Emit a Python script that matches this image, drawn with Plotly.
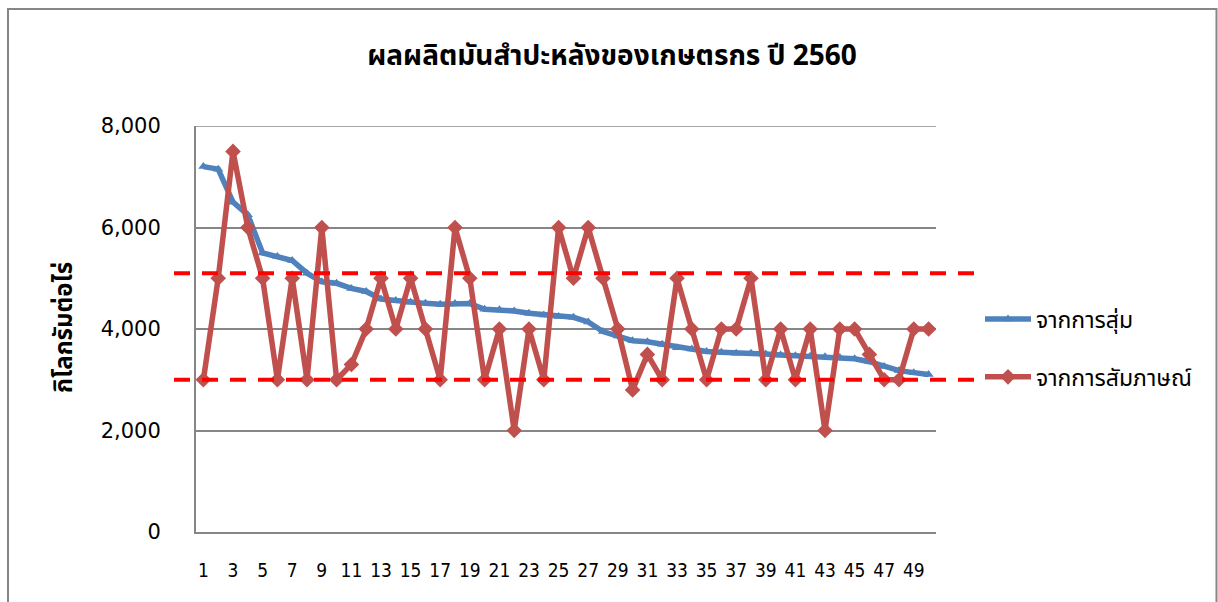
import plotly.graph_objects as go

categories = list(range(1, 51))
tick_labels = [str(i) for i in range(1, 50, 2)]
y_ticks = [0, 2000, 4000, 6000, 8000]
y_tick_labels = ["0", "2,000", "4,000", "6,000", "8,000"]

random_sample = [7200, 7150, 6500, 6250, 5500, 5430, 5350, 5100, 4930, 4900,
                 4800, 4740, 4590, 4560, 4525, 4505, 4490, 4500, 4500, 4390,
                 4380, 4355, 4310, 4275, 4245, 4230, 4140, 3950, 3860, 3770,
                 3750, 3700, 3630, 3605, 3555, 3540, 3520, 3520, 3505, 3490,
                 3475, 3465, 3455, 3440, 3415, 3355, 3260, 3180, 3140, 3105]

interview = [3000, 5000, 7500, 6000, 5000, 3000, 5000, 3000, 6000, 3000,
             3300, 4000, 5000, 4000, 5000, 4000, 3000, 6000, 5000, 3000,
             4000, 2000, 4000, 3000, 6000, 5000, 6000, 5000, 4000, 2800,
             3500, 3000, 5000, 4000, 3000, 4000, 4000, 5000, 3000, 4000,
             3000, 4000, 2000, 4000, 4000, 3500, 3000, 3000, 4000, 4000]

upper_limit = 5100
lower_limit = 3000

title_text = "ผลผลิตมันสำปะหลังของเกษตรกร ปี 2560"
y_title = "กิโลกรัมต่อไร่"
series_names = ["จากการสุ่ม", "จากการสัมภาษณ์"]

W, H = 1218, 602
L, R, T, B = 196, 936, 126, 532

def px(x):
    return (x - L) / (R - L)

def py(y):
    return (B - y) / (B - T)

thai_font = "Noto Sans Thai, Tahoma, Loma, Garuda, DejaVu Sans, sans-serif"
grid_color = "#868686"

fig = go.Figure()
fig.add_trace(go.Scatter(
    x=categories, y=random_sample, name=series_names[0], mode="lines+markers",
    line=dict(color="#4F81BD", width=5.5),
    marker=dict(symbol="triangle-up", size=9, color="#4F81BD"),
    legendgroup="a"))
fig.add_trace(go.Scatter(
    x=categories, y=interview, name=series_names[1], mode="lines+markers",
    line=dict(color="#C0504D", width=5.5),
    marker=dict(symbol="diamond", size=12, color="#C0504D"),
    legendgroup="b"))

# top gridline (edge of range)
fig.add_shape(type="line", xref="paper", yref="y", x0=0, x1=1,
              y0=y_ticks[-1], y1=y_ticks[-1],
              line=dict(color=grid_color, width=1.5), layer="below")

for v in (upper_limit, lower_limit):
    fig.add_shape(type="line", xref="paper", yref="y",
                  x0=px(174), x1=px(976), y0=v, y1=v,
                  line=dict(color="#FF0000", width=4, dash="16px,12px"),
                  layer="above")

# outer frame
fig.add_shape(type="rect", xref="paper", yref="paper",
              x0=px(8), x1=px(1216.5), y0=py(9), y1=py(606),
              line=dict(color=grid_color, width=2), fillcolor="rgba(0,0,0,0)")

fig.add_annotation(text="<b>" + y_title + "</b>", xref="paper", yref="paper",
                   x=px(65), y=py(328), textangle=-90, showarrow=False,
                   font=dict(family=thai_font, size=24, color="#000000"),
                   xanchor="center", yanchor="middle")

fig.update_layout(
    width=W, height=H,
    margin=dict(l=L, r=W - R, t=T, b=H - B),
    paper_bgcolor="white", plot_bgcolor="white",
    title=dict(text="<b>" + title_text + "</b>", x=612 / W, y=1 - 55 / H,
               xanchor="center", yanchor="middle",
               font=dict(family=thai_font, size=28, color="#000000")),
    showlegend=True,
    legend=dict(x=px(980), y=py(348), xanchor="left", yanchor="middle",
                font=dict(family=thai_font, size=23, color="#000000"),
                traceorder="grouped", tracegroupgap=25,
                bgcolor="rgba(0,0,0,0)", itemwidth=46),
    xaxis=dict(range=[0.5, 50.5], tickmode="array", tickvals=list(range(1, 50, 2)),
               ticktext=tick_labels, showgrid=False, zeroline=False,
               showline=True, linecolor=grid_color, linewidth=2,
               ticks="", ticklabelstandoff=20,
               tickfont=dict(family="Liberation Sans Narrow, DejaVu Sans Condensed, sans-serif",
                             size=19, color="#000000")),
    yaxis=dict(range=[0, 8000], tickmode="array", tickvals=y_ticks,
               ticktext=y_tick_labels, showgrid=True, gridcolor=grid_color,
               gridwidth=1.5, zeroline=False, showline=True,
               linecolor=grid_color, linewidth=2, ticks="",
               ticklabelstandoff=29,
               tickfont=dict(family="DejaVu Sans, Verdana, sans-serif", size=21,
                             color="#000000")),
)

fig.write_html("out.html", config={"displayModeBar": False},
               post_script="document.body.style.margin='0';document.body.style.overflow='hidden';")
